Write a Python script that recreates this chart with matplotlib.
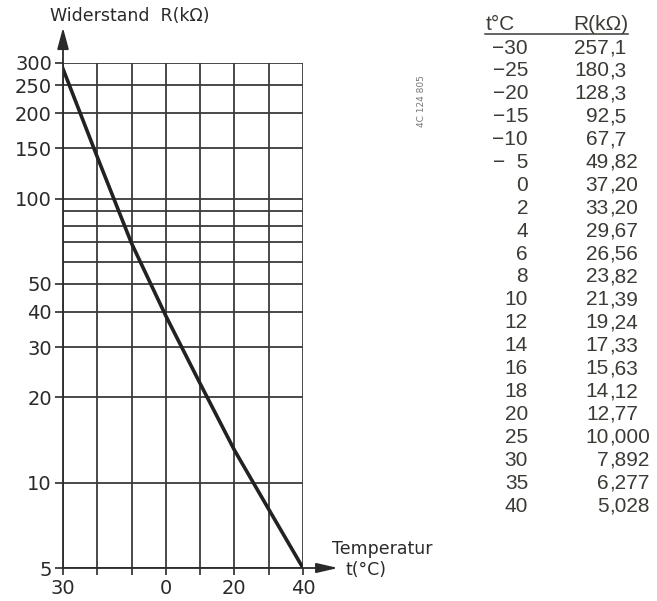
import numpy as np
import matplotlib.pyplot as plt

# Kennlinie
kurve_t = [-30, -20, -10, 0, 10, 20, 30, 40]
kurve_r = [286, 140, 69.5, 38.6, 22.3, 13.0, 8.05, 5.0]

# Gitter und Beschriftung
x_gitter = [-30, -20, -10, 0, 10, 20, 30, 40]
x_labels = ["30", "", "", "0", "", "20", "", "40"]
y_ticks = [5, 10, 20, 30, 40, 50, 100, 150, 200, 250, 300]
y_gitter = [5, 10, 20, 30, 40, 50, 60, 70, 80, 90, 100, 150, 200, 250, 300]

# Tabelle
tab_t = ["\u221230", "\u221225", "\u221220", "\u221215", "\u221210", "\u2212  5",
         "0", "2", "4", "6", "8", "10", "12", "14", "16", "18", "20",
         "25", "30", "35", "40"]
tab_r = ["257,1", "180,3", "128,3", "92,5", "67,7", "49,82", "37,20", "33,20",
         "29,67", "26,56", "23,82", "21,39", "19,24", "17,33", "15,63", "14,12",
         "12,77", "10,000", "7,892", "6,277", "5,028"]

W, H = 657, 601
fig = plt.figure(figsize=(W / 100, H / 100), dpi=100)
ax = fig.add_axes([63 / W, 1 - 568 / H, 240 / W, 505 / H])

farbe = "#2a2a2a"
ax.set_yscale("log")
ax.set_xlim(-30, 40)
ax.set_ylim(5, 300)

for x in x_gitter:
    ax.axvline(x, color="#3a3a3a", lw=1.3, zorder=1)
for y in y_gitter:
    ax.axhline(y, color="#3a3a3a", lw=1.3, zorder=1)

ax.plot(kurve_t, kurve_r, color="#222222", lw=2.6, zorder=3)

for s in ax.spines.values():
    s.set_visible(False)

ax.set_xticks(x_gitter)
ax.set_xticklabels(x_labels)
ax.set_yticks(y_ticks)
ax.set_yticklabels([str(v) for v in y_ticks])
ax.yaxis.set_minor_locator(plt.NullLocator())
ax.tick_params(axis="both", colors=farbe, labelsize=14, width=1.2, length=6, pad=2)
ax.tick_params(axis="x", length=5, pad=3)

# Achsenpfeile
ax.annotate("", xy=(0, 1.07), xytext=(0, 0), xycoords="axes fraction",
            arrowprops=dict(arrowstyle="-|>,head_length=1.3,head_width=0.35",
                            color=farbe, lw=1.3, shrinkA=0, shrinkB=0))
ax.annotate("", xy=(1.146, 0), xytext=(0, 0), xycoords="axes fraction",
            arrowprops=dict(arrowstyle="-|>,head_length=1.3,head_width=0.3",
                            color=farbe, lw=1.3, shrinkA=0, shrinkB=0))

fig.text(50 / W, 1 - 16 / H, "Widerstand  R(k\u03a9)", fontsize=12.5, color=farbe,
         ha="left", va="center")
fig.text(332 / W, 1 - 549 / H, "Temperatur", fontsize=12.5, color=farbe,
         ha="left", va="center")
fig.text(345 / W, 1 - 570 / H, "t(\u00b0C)", fontsize=12.5, color=farbe,
         ha="left", va="center")

fig.text(422 / W, 1 - 101 / H, "4C 124 805", fontsize=6.5, color="#777777",
         rotation=90, ha="center", va="center")

# Tabelle rechts
tcol = "#3b3b36"
tf = ["Liberation Sans", "DejaVu Sans"]
fs = 15
fig.text(486 / W, 1 - 25 / H, "t\u00b0C", fontsize=fs, color=tcol, family=tf,
         ha="left", va="center")
fig.text(628 / W, 1 - 25 / H, "R(k\u03a9)", fontsize=fs, color=tcol, family=tf,
         ha="right", va="center")
fig.add_artist(plt.Line2D([485 / W, 628 / W], [1 - 34 / H, 1 - 34 / H],
                          color=tcol, lw=1.1))
for i, (t, r) in enumerate(zip(tab_t, tab_r)):
    yy = 1 - (48 + 22.9 * i) / H
    fig.text(528 / W, yy, t, fontsize=fs, color=tcol, family=tf,
             ha="right", va="center")
    ganz, frac = r.split(",")
    fig.text(609 / W, yy, ganz, fontsize=fs, color=tcol, family=tf,
             ha="right", va="center")
    fig.text(609 / W, yy, "," + frac, fontsize=fs, color=tcol, family=tf,
             ha="left", va="center")

fig.savefig("out.png", dpi=100, facecolor="white")
